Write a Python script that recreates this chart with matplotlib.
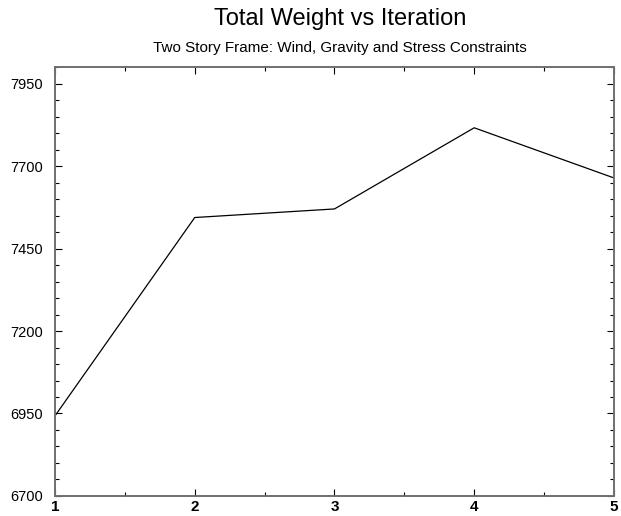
import matplotlib
matplotlib.use("Agg")
import matplotlib.pyplot as plt
from matplotlib.ticker import MultipleLocator

plt.rcParams['font.family'] = ['Liberation Sans', 'DejaVu Sans']

iterations = [1, 2, 3, 4, 5]
total_weight = [6943, 7544, 7570, 7816, 7664]
y_ticks = [6700, 6950, 7200, 7450, 7700, 7950]

fig = plt.figure(figsize=(6.21, 5.16), dpi=100)
ax = fig.add_axes([0.0886, 0.0388, 0.9000, 0.8312])

ax.plot(iterations, total_weight, color='black', linewidth=0.9)

ax.set_xlim(1, 5)
ax.set_ylim(6700, 8000)
ax.set_yticks(y_ticks)
ax.set_xticks(iterations)
ax.xaxis.set_minor_locator(MultipleLocator(0.5))
ax.yaxis.set_minor_locator(MultipleLocator(50))

ax.tick_params(which='both', direction='in', top=True, right=True, color='black')
ax.tick_params(which='major', length=5, width=0.8)
ax.tick_params(which='minor', length=3, width=0.8)
ax.tick_params(axis='y', labelsize=10.5, pad=8.5)
ax.tick_params(axis='x', labelsize=11, pad=3)
for lbl in ax.get_xticklabels():
    lbl.set_fontweight('bold')

for sp in ax.spines.values():
    sp.set_color('#707070')
    sp.set_linewidth(1.4)

fig.text(0.548, 0.9516, 'Total Weight vs Iteration', ha='center', va='baseline', fontsize=17)
fig.text(0.548, 0.8986, 'Two Story Frame: Wind, Gravity and Stress Constraints',
         ha='center', va='baseline', fontsize=11)

fig.savefig('out.png', dpi=100)
